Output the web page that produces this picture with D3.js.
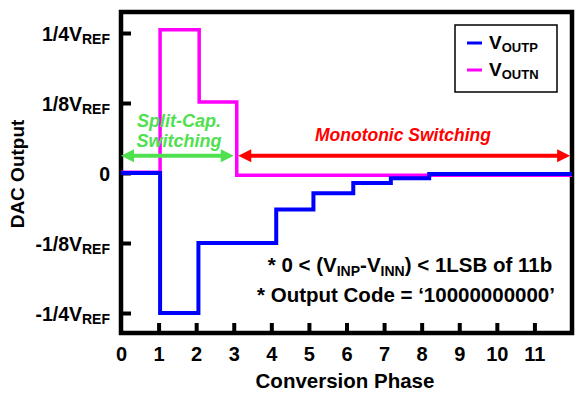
<!DOCTYPE html>
<html>
<head>
<meta charset="utf-8">
<script src="https://cdn.jsdelivr.net/npm/d3@7/dist/d3.min.js"></script>
<style>
  body { margin: 0; background: #fff; }
  text { font-family: "Liberation Sans", Arial, sans-serif; font-weight: bold; fill: #000; }
</style>
</head>
<body>
<div id="chart"></div>
<script>
// conversion phase ticks
const phaseTicks = [0, 1, 2, 3, 4, 5, 6, 7, 8, 9, 10, 11];
// DAC output ticks (fraction of VREF)
const outTicks = [0.25, 0.125, 0, -0.125, -0.25];
const outTickMain = ['1/4V', '1/8V', '0', '-1/8V', '-1/4V'];
const outTickSub = ['REF', 'REF', '', 'REF', 'REF'];

// step waveforms: phase where the level starts, level held until next phase
const voutpPhase = [0, 1.04, 2.06, 4.13, 5.12, 6.18, 7.18, 8.2, 12];
const voutpLevel = [0, -0.25, -0.125, -0.065, -0.036, -0.018, -0.0095, -0.002, -0.002];
const voutnPhase = [0, 1.04, 2.08, 3.08, 12];
const voutnLevel = [0.0015, 0.256, 0.127, -0.004, -0.004];

// annotation spans (phase)
const splitCapSpan = [0, 3];
const monotonicSpan = [3.12, 11.95];
const spanLevel = 0.031;

const width = 583, height = 399;
const frame = { left: 121, top: 12, right: 572, bottom: 333 };

const svg = d3.select('#chart')
    .append('svg')
    .attr('width', width)
    .attr('height', height);

const x = d3.scaleLinear().domain([0, 12]).range([frame.left, frame.right]);
const y = d3.scaleLinear().domain([-0.25, 0.25]).range([313, 33]);

// frame
svg.append('rect')
    .attr('x', frame.left)
    .attr('y', frame.top)
    .attr('width', frame.right - frame.left)
    .attr('height', frame.bottom - frame.top)
    .style('fill', 'none')
    .style('stroke', '#000')
    .style('stroke-width', 4.5);

// left axis, ticks pointing inward
const yAxis = svg.append('g')
    .attr('transform', `translate(${frame.left},0)`)
    .call(d3.axisLeft(y).tickValues(outTicks).tickSize(-10).tickPadding(11).tickFormat(''));
yAxis.select('.domain').remove();
yAxis.selectAll('.tick line').style('stroke', '#000').style('stroke-width', 4);
yAxis.selectAll('.tick text')
    .attr('dy', null)
    .attr('y', 7)
    .style('font-size', '19.5px')
    .each(function (d, i) {
        const t = d3.select(this);
        t.append('tspan').text(outTickMain[i]);
        if (outTickSub[i]) {
            t.append('tspan').attr('dy', 3).style('font-size', '14px').text(outTickSub[i]);
        }
    });

// bottom axis, ticks pointing inward
const xAxis = svg.append('g')
    .attr('transform', `translate(0,${frame.bottom})`)
    .call(d3.axisBottom(x).tickValues(phaseTicks).tickSize(-10).tickPadding(14).tickFormat(d3.format('d')));
xAxis.select('.domain').remove();
xAxis.selectAll('.tick line').style('stroke', '#000').style('stroke-width', 4)
    .filter(d => d === 0).remove();
xAxis.selectAll('.tick text')
    .attr('dy', null)
    .attr('y', 28)
    .style('font-size', '20px');

// axis titles
svg.append('text')
    .attr('transform', `translate(24,174) rotate(-90)`)
    .attr('text-anchor', 'middle')
    .style('font-size', '19px')
    .text('DAC Output');
svg.append('text')
    .attr('x', 345)
    .attr('y', 388)
    .attr('text-anchor', 'middle')
    .style('font-size', '20.5px')
    .text('Conversion Phase');

// waveforms
const line = d3.line()
    .curve(d3.curveStepAfter)
    .x(d => x(d[0]))
    .y(d => y(d[1]));

svg.append('path')
    .datum(d3.zip(voutnPhase, voutnLevel))
    .attr('d', line)
    .style('fill', 'none')
    .style('stroke', '#ff00ff')
    .style('stroke-width', 3.5);
svg.append('path')
    .datum(d3.zip(voutpPhase, voutpLevel))
    .attr('d', line)
    .style('fill', 'none')
    .style('stroke', '#0000ff')
    .style('stroke-width', 4);

// double arrows
function doubleArrow(span, color) {
    const x0 = x(span[0]), x1 = x(span[1]), yy = y(spanLevel);
    const head = 13, half = 6.5;
    svg.append('line')
        .attr('x1', x0 + head - 2).attr('x2', x1 - head + 2)
        .attr('y1', yy).attr('y2', yy)
        .style('stroke', color)
        .style('stroke-width', 4);
    svg.append('path')
        .attr('d', `M${x0},${yy}L${x0 + head},${yy - half}L${x0 + head},${yy + half}Z`)
        .style('fill', color);
    svg.append('path')
        .attr('d', `M${x1},${yy}L${x1 - head},${yy - half}L${x1 - head},${yy + half}Z`)
        .style('fill', color);
}
doubleArrow(splitCapSpan, '#4fe04f');
doubleArrow(monotonicSpan, '#ff0000');

svg.append('text')
    .attr('x', 179).attr('y', 127)
    .attr('text-anchor', 'middle')
    .style('font-size', '18px').style('font-style', 'italic')
    .style('fill', '#4fe04f')
    .text('Split-Cap.');
svg.append('text')
    .attr('x', 179).attr('y', 147)
    .attr('text-anchor', 'middle')
    .style('font-size', '18px').style('font-style', 'italic')
    .style('fill', '#4fe04f')
    .text('Switching');
svg.append('text')
    .attr('x', 403).attr('y', 141)
    .attr('text-anchor', 'middle')
    .style('font-size', '17.5px').style('font-style', 'italic')
    .style('fill', '#ff0000')
    .text('Monotonic Switching');

// condition notes
const note1 = svg.append('text')
    .attr('x', 410).attr('y', 272)
    .attr('text-anchor', 'middle')
    .style('font-size', '20.5px');
note1.append('tspan').text('* 0 < (V');
note1.append('tspan').attr('dy', 4).style('font-size', '14px').text('INP');
note1.append('tspan').attr('dy', -4).text('-V');
note1.append('tspan').attr('dy', 4).style('font-size', '14px').text('INN');
note1.append('tspan').attr('dy', -4).text(') < 1LSB of 11b');

svg.append('text')
    .attr('x', 406).attr('y', 302)
    .attr('text-anchor', 'middle')
    .style('font-size', '20.5px')
    .text('* Output Code = \u201810000000000\u2019');

// legend
const legendItems = [['OUTP', '#0000ff'], ['OUTN', '#ff00ff']];
const legend = svg.append('g').attr('transform', 'translate(455,25)');
legend.append('rect')
    .attr('width', 102)
    .attr('height', 67)
    .style('fill', '#fff')
    .style('stroke', '#000')
    .style('stroke-width', 1.5);
const item = legend.selectAll('.legend-item')
    .data(legendItems)
    .enter().append('g')
    .classed('legend-item', true)
    .attr('transform', (d, i) => `translate(0,${18 + i * 27})`);
item.append('line')
    .attr('x1', 12).attr('x2', 27)
    .style('stroke', d => d[1])
    .style('stroke-width', 3);
item.append('text')
    .attr('x', 34).attr('y', 5.5)
    .style('font-size', '19px')
    .each(function (d) {
        const t = d3.select(this);
        t.append('tspan').text('V');
        t.append('tspan').attr('dy', 3).style('font-size', '13px').text(d[0]);
    });
</script>
</body>
</html>
